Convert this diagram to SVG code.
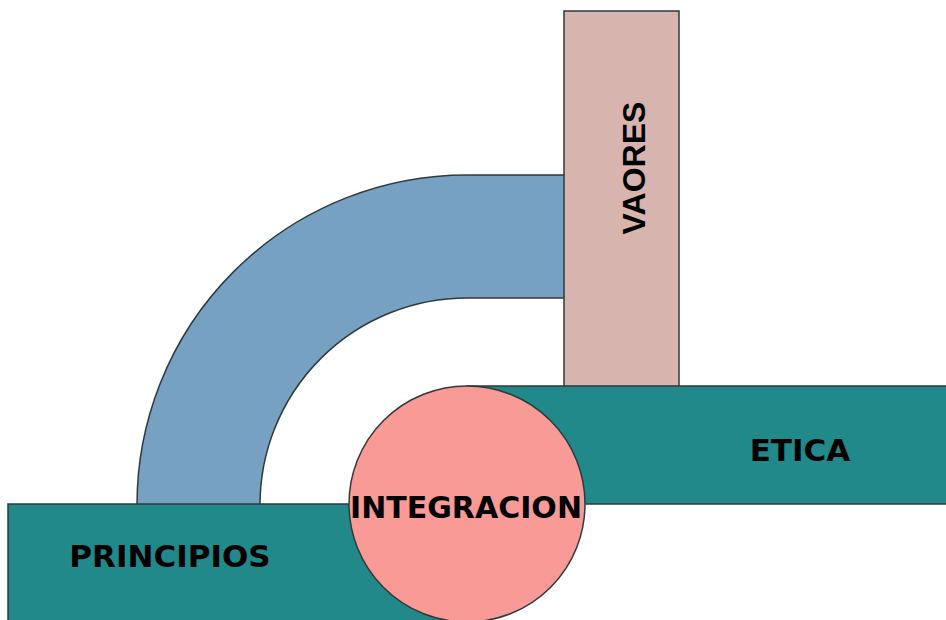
<svg xmlns="http://www.w3.org/2000/svg" width="946" height="620" viewBox="0 0 946 620">
<style>
.s{stroke:#2f3a3c;stroke-width:1.5}
.lbl{font-family:"DejaVu Sans",Verdana,sans-serif;font-weight:bold;font-size:31px;fill:#000;text-anchor:middle}
</style>
<rect width="946" height="620" fill="#fff"/>
<g id="arco">
<path class="s" fill="#76A1C2" d="M 566 175 L 467 175 A 330 330 0 0 0 137 505 L 260 505 A 207 207 0 0 1 467 298 L 566 298 Z"/>
</g>
<g id="vaores">
<rect class="s" fill="#D8B4AE" x="564" y="11" width="115" height="376"/>
<text transform="translate(645,168) rotate(-90)" style="font-family:'Liberation Sans',Arial,sans-serif;font-weight:bold;font-size:32px;text-anchor:middle">VAORES</text>
</g>
<g id="etica">
<rect class="s" fill="#21898A" x="467" y="386" width="490" height="118"/>
<text class="lbl" x="800" y="461">ETICA</text>
</g>
<g id="principios">
<rect class="s" fill="#21898A" x="8" y="504" width="460" height="130"/>
<text class="lbl" x="170" y="567">PRINCIPIOS</text>
</g>
<g id="integracion">
<circle class="s" fill="#F99A96" cx="467" cy="504" r="118"/>
<text class="lbl" x="466" y="518" textLength="232" lengthAdjust="spacingAndGlyphs">INTEGRACION</text>
</g>
</svg>
